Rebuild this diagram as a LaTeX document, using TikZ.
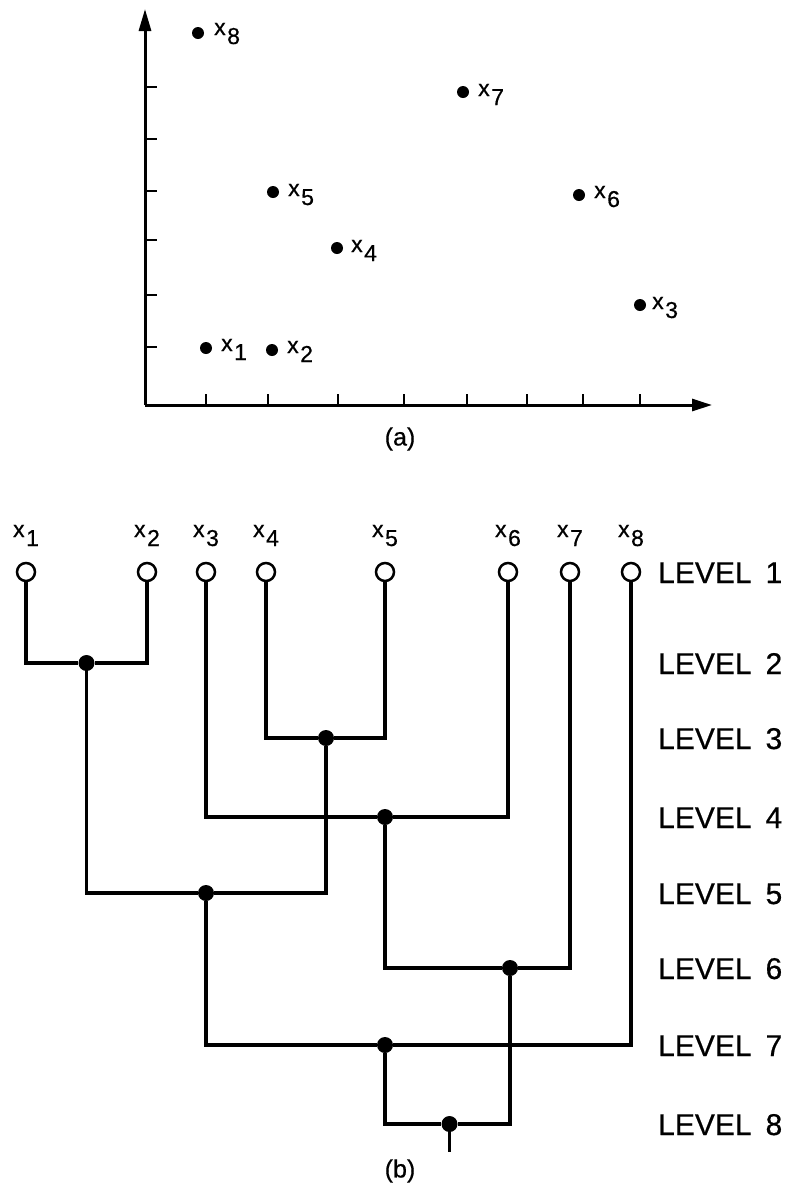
\documentclass[tikz,border=0pt]{standalone}
\usepackage{fontspec}
\setmainfont[FakeBold=0.6]{Liberation Sans}
\usetikzlibrary{arrows.meta}
\newcommand{\xsub}[1]{x\kern1.5pt\raisebox{-9pt}{#1}}
\begin{document}
\begin{tikzpicture}[x=1pt,y=-1pt,
  leaf/.style={circle, draw, line width=2.5pt, minimum size=18pt, inner sep=0pt, fill=white},
  joint/.style={circle, fill, minimum size=16pt, inner sep=0pt},
  dot/.style={circle, fill, minimum size=12pt, inner sep=0pt},
  tree/.style={line width=3.3pt, line join=miter},
  axis/.style={line width=3pt},
  tickmark/.style={line width=2.6pt},
  lab/.style={inner sep=0pt, font=\fontsize{23}{26}\selectfont},
  lev/.style={inner sep=0pt, anchor=base west, font=\fontsize{30}{34}\selectfont},
  captxt/.style={inner sep=0pt, font=\fontsize{25}{28}\selectfont}]
\useasboundingbox (0,0) rectangle (790,1187);

% ---------- (a) scatter plot ----------
\coordinate (O) at (145,405);
\coordinate (ytip) at (145,9);
\coordinate (xtip) at (712,405);
\draw[axis,-{Triangle[length=22pt,width=12pt]}] (O) -- (ytip);
\draw[axis,-{Triangle[length=20pt,width=12pt]}] (O) -- (xtip);
\foreach \y in {87,139,191,240,295,347} \draw[tickmark] (145,\y) -- (157,\y);
\foreach \x in {206,268,338,404,467,527,583,640} \draw[tickmark] (\x,405) -- (\x,394);

\node[dot] (p1) at (206,348) {};
\node[dot] (p2) at (272,350) {};
\node[dot] (p3) at (640,305) {};
\node[dot] (p4) at (337,248) {};
\node[dot] (p5) at (273,192) {};
\node[dot] (p6) at (579,195) {};
\node[dot] (p7) at (463,92) {};
\node[dot] (p8) at (198,33) {};
\node[lab,anchor=base west] (t1) at (221,351) {\xsub{1}};
\node[lab,anchor=base west] (t2) at (287,353) {\xsub{2}};
\node[lab,anchor=base west] (t3) at (652,309) {\xsub{3}};
\node[lab,anchor=base west] (t4) at (351,252) {\xsub{4}};
\node[lab,anchor=base west] (t5) at (288,196) {\xsub{5}};
\node[lab,anchor=base west] (t6) at (594,198) {\xsub{6}};
\node[lab,anchor=base west] (t7) at (478,96) {\xsub{7}};
\node[lab,anchor=base west] (t8) at (214,35) {\xsub{8}};
\node[captxt] (capa) at (400,439) {(a)};

% ---------- (b) dendrogram ----------
\node[leaf] (l1) at (26,572) {};
\node[leaf] (l2) at (147,572) {};
\node[leaf] (l3) at (206,572) {};
\node[leaf] (l4) at (266,572) {};
\node[leaf] (l5) at (385,572) {};
\node[leaf] (l6) at (508,572) {};
\node[leaf] (l7) at (570,572) {};
\node[leaf] (l8) at (631,572) {};
\foreach \i/\x in {1/26,2/147,3/206,4/266,5/385,6/508,7/570,8/631}
  \node[lab,anchor=base] (n\i) at (\x,537) {\xsub{\i}};

\node[joint] (j2) at (86.5,663) {};
\node[joint] (j3) at (326,738) {};
\node[joint] (j4) at (385,817) {};
\node[joint] (j5) at (206,893) {};
\node[joint] (j6) at (510,968) {};
\node[joint] (j7) at (385,1045) {};
\node[joint] (j8) at (449.5,1124) {};
\coordinate (root) at (449.5,1152);

\draw[tree] (l1) |- (j2) -| (l2);
\draw[tree] (l4) |- (j3) -| (l5);
\draw[tree] (l3) |- (j4) -| (l6);
\draw[tree] (j2) |- (j5) -| (j3);
\draw[tree] (j4) |- (j6) -| (l7);
\draw[tree] (j5) |- (j7) -| (l8);
\draw[tree] (j7) |- (j8) -| (j6);
\draw[tree] (j8) -- (root);

\foreach \i/\y in {1/572,2/663,3/738,4/817,5/893,6/968,7/1045,8/1124}
  \node[lev] (lv\i) at (658,\y+11) {LEVEL\hspace{14pt}\i};
\node[captxt] (capb) at (400,1171) {(b)};
\end{tikzpicture}
\end{document}
